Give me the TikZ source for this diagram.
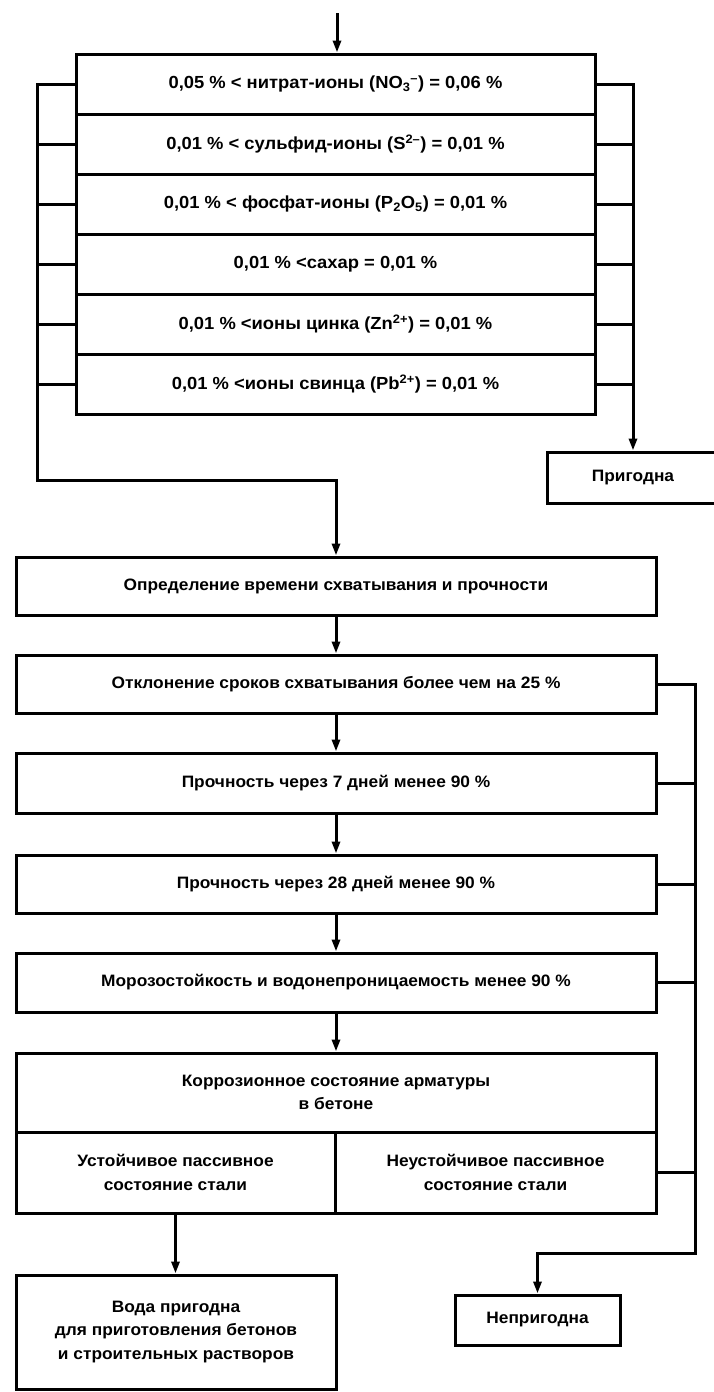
\documentclass[tikz,border=0pt]{standalone}
\usepackage{fontspec}
\setmainfont{Liberation Sans}[FakeStretch=1.05]
\usetikzlibrary{arrows.meta}
\tikzset{
  box/.style={draw, line width=3pt, rectangle, align=center, inner sep=2pt,
    font=\fontsize{16.5}{23.5}\selectfont\bfseries},
  toprow/.style={box, minimum width=519pt, minimum height=60pt,
    font=\fontsize{17.5}{22}\selectfont\bfseries},
  ln/.style={line width=3pt},
  arr/.style={line width=3pt, -{Triangle[length=12pt,width=8pt]}}
}
\begin{document}
\begin{tikzpicture}[x=1pt,y=-1pt]
\useasboundingbox (0,0) rectangle (713,1392);
% top block rows
\node[toprow] (r1) at (335.5,84) {0,05 \% < нитрат-ионы (NO\textsubscript{3}\textsuperscript{--}) = 0,06 \%};
\node[toprow] (r2) at (335.5,144) {0,01 \% < сульфид-ионы (S\textsuperscript{2--}) = 0,01 \%};
\node[toprow] (r3) at (335.5,204) {0,01 \% < фосфат-ионы (P\textsubscript{2}O\textsubscript{5}) = 0,01 \%};
\node[toprow] (r4) at (335.5,264) {0,01 \% <сахар = 0,01 \%};
\node[toprow] (r5) at (335.5,324) {0,01 \% <ионы цинка (Zn\textsuperscript{2+}) = 0,01 \%};
\node[toprow] (r6) at (335.5,384) {0,01 \% <ионы свинца (Pb\textsuperscript{2+}) = 0,01 \%};
\node[box, minimum width=172pt, minimum height=51pt] (prig) at (633,477.5) {Пригодна};
% lower chain
\node[box, minimum width=640pt, minimum height=58pt] (opr) at (336,586) {Определение времени схватывания и прочности};
\node[box, minimum width=640pt, minimum height=58pt] (otk) at (336,684) {Отклонение сроков схватывания более чем на 25 \%};
\node[box, minimum width=640pt, minimum height=60pt] (p7) at (336,783) {Прочность через 7 дней менее 90 \%};
\node[box, minimum width=640pt, minimum height=58pt] (p28) at (336,884) {Прочность через 28 дней менее 90 \%};
\node[box, minimum width=640pt, minimum height=59pt] (mor) at (336,982.5) {Морозостойкость и водонепроницаемость менее 90 \%};
\node[box, minimum width=640pt, minimum height=79pt] (korT) at (336,1092.5) {Коррозионное состояние арматуры\\в бетоне};
\node[box, minimum width=319pt, minimum height=81pt] (korL) at (175.5,1172.5) {Устойчивое пассивное\\состояние стали};
\node[box, minimum width=321pt, minimum height=81pt] (korR) at (495.5,1172.5) {Неустойчивое пассивное\\состояние стали};
\node[box, minimum width=320pt, minimum height=114pt] (voda) at (176,1332) {Вода пригодна\\для приготовления бетонов\\и строительных растворов};
\node[box, minimum width=165pt, minimum height=50pt] (nepr) at (537.5,1320) {Непригодна};
% coordinates
\coordinate (start) at (337,13);
\coordinate (lbend) at (37,480);
\coordinate (rb) at (633,84);
\coordinate (rb2) at (695,1253);
% top arrow
\draw[arr] (start) -- (start |- r1.north);
% left bus
\draw[arr] (r1.west) -| (lbend) -- (lbend -| opr.north) -- (opr.north);
\foreach \r in {r2,r3,r4,r5,r6} \draw[ln] (\r.west) -- (\r.west -| lbend);
% right bus
\draw[arr] (r1.east) -- (rb) -- (prig.north);
\foreach \r in {r2,r3,r4,r5,r6} \draw[ln] (\r.east) -- (\r.east -| rb);
% chain arrows
\draw[arr] (opr.south) -- (otk.north);
\draw[arr] (otk.south) -- (p7.north);
\draw[arr] (p7.south) -- (p28.north);
\draw[arr] (p28.south) -- (mor.north);
\draw[arr] (mor.south) -- (korT.north);
\draw[arr] (korL.south) -- (korL.south |- voda.north);
% right bottom bus
\draw[arr] (otk.east) -| (rb2) -- (rb2 -| nepr.north) -- (nepr.north);
\foreach \r in {p7,p28,mor,korR} \draw[ln] (\r.east) -- (\r.east -| rb2);
\end{tikzpicture}
\end{document}
